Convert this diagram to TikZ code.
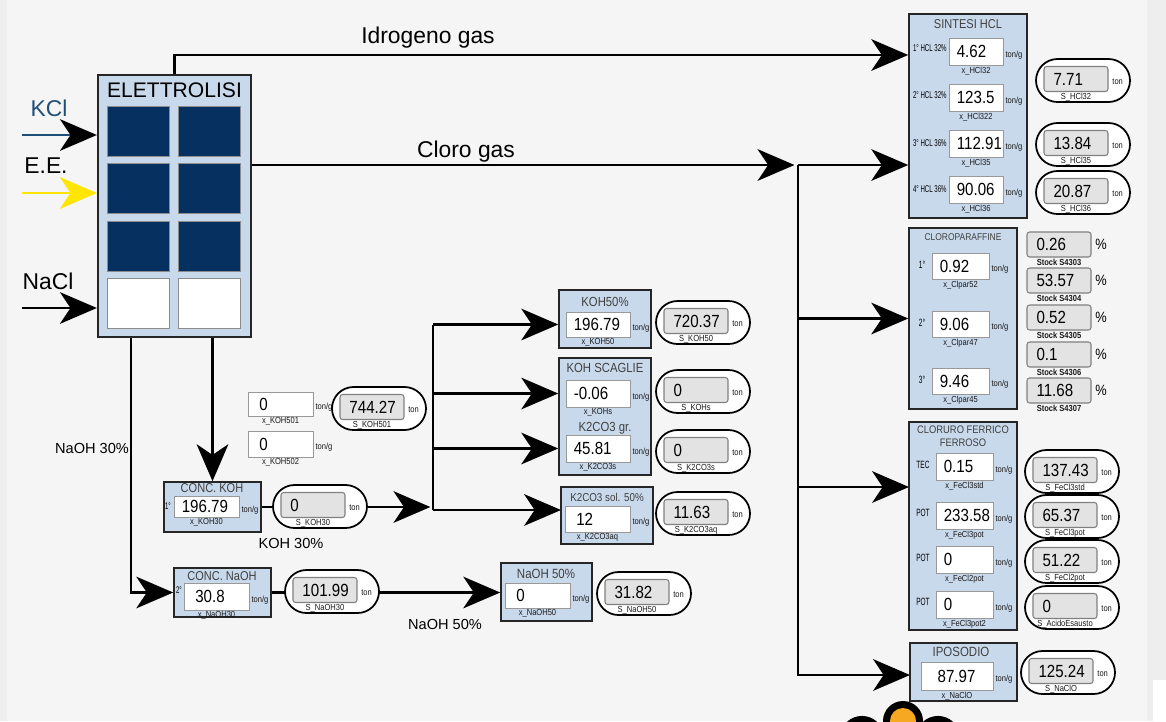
\documentclass[tikz,border=0pt]{standalone}
\usepackage{fontspec}
\setmainfont{Liberation Sans}
\newfontfamily\narrowf[FakeStretch=0.86]{Liberation Sans}
\newfontfamily\slimf[FakeStretch=0.62]{Liberation Sans}
\usetikzlibrary{arrows.meta,calc}
\definecolor{bgray}{HTML}{F5F5F5}
\definecolor{sidegray}{HTML}{EEEEEE}
\definecolor{panelblue}{HTML}{C9D9EC}
\definecolor{cellnavy}{HTML}{05305F}
\definecolor{kclblue}{HTML}{1F4E79}
\definecolor{eeyellow}{HTML}{FFE500}
\definecolor{pillgray}{HTML}{E3E3E3}
\definecolor{orng}{HTML}{F7A823}
\pgfdeclarelayer{back}
\pgfdeclarelayer{wires}
\pgfsetlayers{back,wires,main}

% input field: name, x, y, w, h, value, tag
\newcommand{\infield}[7]{%
  \node[field, minimum width={#4*0.02cm}, minimum height={#5*0.02cm}] (#1) at ({#2+#4/2},{#3+#5/2}) {};
  \node[valtxt, anchor=west] (#1v) at ([xshift=4.5pt]#1.west) {#6};
  \node[tinytxt, anchor=west] (#1u) at ([xshift=1pt,yshift=-2pt]#1.east) {ton/g};
  \node[tinytxt, anchor=north, inner sep=0.6pt] (#1t) at (#1.south) {#7};
}
% output pill: name, x, y, value, tag, unit
\newcommand{\outpill}[6]{%
  \node[pill] (#1) at ({#2+47},{#3+21.5}) {};
  \node[well] (#1w) at ({#2+40},{#3+20}) {};
  \node[valtxt, anchor=west] (#1v) at ([xshift=5.5pt]#1w.west) {#4};
  \node[tinytxt, anchor=west] (#1u) at ([xshift=2pt,yshift=-1.5pt]#1w.east) {#6};
  \node[tinytxt, anchor=north, inner sep=0.6pt] (#1t) at (#1w.south) {#5};
}

\begin{document}
\begin{tikzpicture}[x=0.02cm, y=-0.02cm,
  >={Stealth[length=21pt,width=18pt,inset=6pt]},
  wire/.style={line width=1.3pt},
  flow/.style={wire, ->},
  panel/.style={draw=black!85, line width=0.9pt, fill=panelblue, inner sep=0},
  sz/.style 2 args={minimum width=#1*0.02cm, minimum height=#2*0.02cm},
  cellline/.style={draw=black!45, line width=0.4pt},
  field/.style={draw=black!40, line width=0.5pt, fill=white, inner sep=0},
  pill/.style={draw=black, line width=1pt, fill=white, rounded corners=0.43cm,
    minimum width=1.88cm, minimum height=0.86cm, inner sep=0},
  well/.style={draw=black!50, line width=0.6pt, fill=pillgray, rounded corners=1.5pt,
    minimum width=1.28cm, minimum height=0.5cm, inner sep=0},
  bigtxt/.style={font=\fontsize{13}{15}\selectfont, inner sep=0},
  midtxt/.style={font=\fontsize{8.3}{10}\selectfont, inner sep=0},
  ttl/.style={font=\narrowf\fontsize{7.3}{8}\selectfont, text=black!75, inner sep=0},
  valtxt/.style={font=\narrowf\fontsize{10}{12}\selectfont, inner sep=0},
  tinytxt/.style={font=\narrowf\fontsize{5}{5.5}\selectfont, text=black!90, inner sep=0},
  rowtxt/.style={font=\slimf\fontsize{6}{7}\selectfont, inner sep=0},
  hcltxt/.style={font=\slimf\fontsize{5.6}{6}\selectfont, inner sep=0},
  pcttxt/.style={font=\narrowf\fontsize{8.5}{9}\selectfont, inner sep=0}]
\useasboundingbox (0,0) rectangle (1166,721);

% background
\begin{pgfonlayer}{back}
  \fill[bgray] (0,0) rectangle (1166,721);
  \fill[sidegray] (0,0) rectangle (7,721);
  \fill[sidegray] (1147,0) rectangle (1166,721);
  \fill[white] (1153,680) rectangle (1166,721);
\end{pgfonlayer}

% electrolysis cell
\node[panel, sz={153}{262}, line width=1.3pt] (elet) at (174.5,206) {};
\node[font=\fontsize{12}{14}\selectfont, inner sep=0] (eletT) at (174.5,90) {ELETTROLISI};
\foreach \cy in {106,163,221}{
  \foreach \cx in {107,178}{
    \draw[cellline, fill=cellnavy] (\cx,\cy) rectangle ++(62,50);
  }
}
\foreach \cx in {107,178}
  \draw[cellline, fill=white] (\cx,278) rectangle ++(62,50);

% feeds and flow labels
\node[bigtxt, text=kclblue] (kclT) at (49,108) {KCl};
\node[bigtxt] (eeT) at (46,166) {E.E.};
\node[bigtxt] (naclT) at (48,281) {NaCl};
\node[bigtxt] (h2T) at (428,38) {Idrogeno gas};
\node[bigtxt] (cl2T) at (466,152) {Cloro gas};
\node[midtxt] (naoh30T) at (92,448) {NaOH 30\%};
\node[midtxt] (koh30T) at (291,543) {KOH 30\%};
\node[midtxt] (naoh50T) at (445,624) {NaOH 50\%};

% SINTESI HCL
\node[panel, sz={118}{204}] (sint) at (968,116) {};
\node[ttl] (sintT) at (968,24) {SINTESI HCL};
\infield{hcl32}{949}{38}{54}{27}{4.62}{x\_HCl32}
\infield{hcl322}{949}{84}{54}{27}{123.5}{x\_HCl322}
\infield{hcl35}{949}{130}{54}{27}{112.91}{x\_HCl35}
\infield{hcl36}{949}{176}{54}{27}{90.06}{x\_HCl36}
\node[hcltxt, anchor=east] (hcl32L) at (947,48) {1° HCL 32\%};
\node[hcltxt, anchor=east] (hcl322L) at (947,95) {2° HCL 32\%};
\node[hcltxt, anchor=east] (hcl35L) at (947,143) {3° HCL 36\%};
\node[hcltxt, anchor=east] (hcl36L) at (947,189) {4° HCL 36\%};
\outpill{shcl32}{1036}{59}{7.71}{S\_HCl32}{ton}
\outpill{shcl35}{1036}{123}{13.84}{S\_HCl35}{ton}
\outpill{shcl36}{1036}{171}{20.87}{S\_HCl36}{ton}

% CLOROPARAFFINE
\node[panel, sz={108}{181}] (clp) at (963,318.5) {};
\node[ttl, font=\narrowf\fontsize{5.6}{6}\selectfont] (clpT) at (963,237) {CLOROPARAFFINE};
\infield{clp52}{932}{253}{57}{26}{0.92}{x\_Clpar52}
\infield{clp47}{932}{311}{57}{26}{9.06}{x\_Clpar47}
\infield{clp45}{932}{368}{57}{26}{9.46}{x\_Clpar45}
\node[rowtxt] (clp52L) at (922,265) {1°};
\node[rowtxt] (clp47L) at (922,323) {2°};
\node[rowtxt] (clp45L) at (922,380) {3°};
\foreach \yy/\vv/\ss [count=\i] in {232/0.26/4303, 268/53.57/4304, 305/0.52/4305, 342/0.1/4306, 378/11.68/4307}{
  \node[well] (stk\i) at (1059,{\yy+12.5}) {};
  \node[valtxt, anchor=west] (stk\i v) at ([xshift=5.5pt]stk\i.west) {\vv};
  \node[pcttxt, anchor=west] (stk\i u) at ([xshift=2pt]stk\i.east) {\%};
  \node[tinytxt, anchor=north, inner sep=0.6pt] (stk\i t) at (stk\i.south) {\bfseries Stock S\ss};
}

% CLORURO FERRICO FERROSO
\node[panel, sz={108}{208}] (fec) at (963,526) {};
\node[ttl, font=\narrowf\fontsize{6.2}{7}\selectfont] (fecT) at (963,430) {CLORURO FERRICO};
\node[ttl, font=\narrowf\fontsize{6.2}{7}\selectfont] (fecT2) at (963,443) {FERROSO};
\infield{fe3std}{936}{453}{57}{27}{0.15}{x\_FeCl3std}
\infield{fe3pot}{936}{502}{57}{27}{233.58}{x\_FeCl3pot}
\infield{fe2pot}{936}{546}{57}{27}{0}{x\_FeCl2pot}
\infield{fe3pot2}{936}{591}{57}{27}{0}{x\_FeCl3pot2}
\node[rowtxt] (fe3stdL) at (923,465) {TEC};
\node[rowtxt] (fe3potL) at (923,513) {POT};
\node[rowtxt] (fe2potL) at (923,558) {POT};
\node[rowtxt] (fe3pot2L) at (923,602) {POT};
\outpill{sfe3std}{1025}{450}{137.43}{S\_FeCl3std}{ton}
\outpill{sfe3pot}{1025}{495}{65.37}{S\_FeCl3pot}{ton}
\outpill{sfe2pot}{1025}{540}{51.22}{S\_FeCl2pot}{ton}
\outpill{sacido}{1025}{586}{0}{S\_AcidoEsausto}{ton}

% IPOSODIO
\node[panel, sz={107}{58}] (ipo) at (963.5,672) {};
\node[ttl, font=\narrowf\fontsize{7.6}{8}\selectfont] (ipoT) at (961,652) {IPOSODIO};
\infield{naclo}{921}{662}{72}{28}{\hspace{5pt}87.97}{x\_NaClO}
\outpill{snaclo}{1021}{651}{125.24}{S\_NaClO}{ton}

% potassium products
\node[panel, sz={92}{58}] (koh50p) at (605,319) {};
\node[ttl, font=\narrowf\fontsize{7.5}{8}\selectfont] (koh50T) at (605,302) {KOH50\%};
\infield{koh50f}{566}{312}{64}{25}{196.79}{x\_KOH50}
\outpill{skoh50}{656}{301}{720.37}{S\_KOH50}{ton}

\node[panel, sz={92}{117}] (scag) at (605,416.5) {};
\node[ttl, font=\narrowf\fontsize{7.5}{8}\selectfont] (scagT) at (605,368) {KOH SCAGLIE};
\node[ttl, font=\narrowf\fontsize{7.5}{8}\selectfont] (k2grT) at (605,428) {K2CO3 gr.};
\infield{kohsf}{566}{380}{64}{27}{-0.06}{x\_KOHs}
\infield{k2sf}{566}{435}{64}{27}{45.81}{x\_K2CO3s}
\outpill{skohs}{656}{370}{0}{S\_KOHs}{ton}
\outpill{sk2s}{656}{430}{0}{S\_K2CO3s}{ton}

\node[panel, sz={92}{57}] (k2aq) at (607,515.5) {};
\node[ttl, font=\narrowf\fontsize{6.5}{7}\selectfont] (k2aqT) at (607,497) {K2CO3 sol. 50\%};
\infield{k2aqf}{565}{506}{65}{26}{\hspace{2pt}12}{x\_K2CO3aq}
\outpill{sk2aq}{656}{492}{11.63}{S\_K2CO3aq}{ton}

\infield{koh501}{248}{392}{65}{24}{\hspace{2pt}0}{x\_KOH501}
\infield{koh502}{248}{431}{65}{26}{\hspace{2pt}0}{x\_KOH502}
\outpill{skoh501}{332}{387}{744.27}{S\_KOH501}{ton}

% concentrators
\node[panel, sz={97}{50}] (kohc) at (212.5,507) {};
\node[ttl] (kohcT) at (212,488) {CONC. KOH};
\infield{koh30f}{174}{496}{65}{21}{196.79}{x\_KOH30}
\node[rowtxt, font=\slimf\fontsize{5.5}{6}\selectfont] (kohcL) at (168,506) {1°};
\outpill{skoh30}{273}{485}{0}{S\_KOH30}{ton}

\node[panel, sz={97}{49}] (nac) at (222.5,592.5) {};
\node[ttl] (nacT) at (222,576) {CONC. NaOH};
\infield{naoh30f}{184}{583}{65}{27}{\hspace{2pt}30.8}{x\_NaOH30}
\node[rowtxt, font=\slimf\fontsize{5.5}{6}\selectfont] (nacL) at (179,590) {2°};
\outpill{snaoh30}{285}{570}{101.99}{S\_NaOH30}{ton}

\node[panel, sz={91}{58}] (na50) at (546.5,592) {};
\node[ttl, font=\narrowf\fontsize{7.6}{8}\selectfont] (na50T) at (546,574) {NaOH 50\%};
\infield{naoh50f}{505}{583}{65}{25}{\hspace{2pt}0}{x\_NaOH50}
\outpill{snaoh50}{597}{572}{31.82}{S\_NaOH50}{ton}

% junction points
\coordinate (kclin) at (22,135);
\coordinate (eein) at (22,193);
\coordinate (naclin) at (22,308);
\coordinate (h2) at (174.5,55);
\coordinate (clout) at (251,165);
\coordinate (jc) at (798,165);
\coordinate (fein) at (909,487);
\coordinate (ipoin) at (910,675);
\coordinate (naoh) at (131,337);
\coordinate (jk) at (433,508);
\coordinate (k2aqin) at (561,510);

% connectors
\begin{pgfonlayer}{wires}
  \draw[wire, kclblue, -{Stealth[length=21pt,width=18pt,inset=6pt,color=black]}] (kclin) -- (kclin -| elet.west);
  \draw[flow, eeyellow] (eein) -- (eein -| elet.west);
  \draw[flow] (naclin) -- (naclin -| elet.west);
  \draw[flow] (elet.north) -- (h2) -- (h2 -| sint.west);
  \draw[flow, shorten >=2pt] (clout) -- (jc);
  \draw[flow] (jc) -- (jc -| sint.west);
  \draw[flow] (jc |- clp.west) -- (clp.west);
  \draw[flow] (jc |- fein) -- (fein);
  \draw[flow] (jc) |- (ipoin);
  \draw[flow] (elet.south -| kohc.north) -- (kohc.north);
  \draw[flow] (naoh) |- (nac.west);
  \draw[flow, shorten >=1.5pt] (kohc.east) -- (kohc.east -| jk);
  \draw[wire] (jk |- koh50f) -- (jk |- k2aqin);
  \draw[flow] (jk |- koh50f) -- (koh50f -| koh50p.west);
  \draw[flow] (jk |- kohsf) -- (kohsf -| scag.west);
  \draw[flow] (jk |- k2sf) -- (k2sf -| scag.west);
  \draw[flow] (jk |- k2aqin) -- (k2aqin);
  \draw[flow] (nac.east) -- (nac.east -| na50.west);
\end{pgfonlayer}

% cut-off badge at the bottom edge
\draw[line width=3.5pt, fill=white] (862,738) circle (19);
\draw[line width=3.5pt, fill=white] (938,738) circle (19);
\fill[black] (903,721) circle (20);
\fill[orng] (903,721) circle (13);
\end{tikzpicture}
\end{document}
